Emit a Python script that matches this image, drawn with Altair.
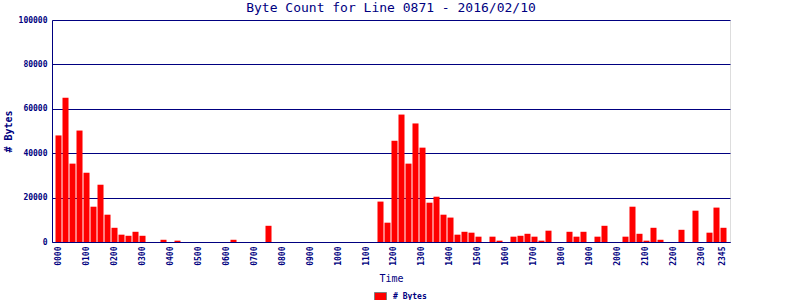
import altair as alt
import pandas as pd

times = [f"{h:02d}{m:02d}" for h in range(24) for m in (0, 15, 30, 45)]
byte_counts = [
    48000, 65000, 35300, 50200, 31200, 15900, 25800, 12300,
    6400, 3300, 2800, 4600, 2800, 0, 0, 1000,
    0, 600, 0, 0, 0, 0, 0, 0,
    0, 1000, 0, 0, 0, 0, 7300, 0,
    0, 0, 0, 0, 0, 0, 0, 0,
    0, 0, 0, 0, 0, 0, 18200, 8700,
    45600, 57400, 35300, 53400, 42500, 17700, 20400, 12300,
    11000, 3300, 4600, 4200, 2400, 0, 2400, 600,
    0, 2400, 2800, 3700, 2400, 600, 5100, 0,
    0, 4600, 2400, 4600, 0, 2400, 7300, 0,
    0, 2400, 15900, 3700, 600, 6400, 1000, 0,
    0, 5500, 0, 14100, 0, 4200, 15500, 6400,
]
tick_labels = [f"{h:02d}00" for h in range(24)] + ["2345"]
y_ticks = [0, 20000, 40000, 60000, 80000, 100000]
series_name = "# Bytes"

df = pd.DataFrame({"Time": times, "Bytes": byte_counts, "series": series_name})

NAVY = "#000080"
MONO = "DejaVu Sans Mono"

chart = alt.Chart(df).mark_bar(color="#ff0000").encode(
    x=alt.X(
        "Time:O",
        sort=times,
        scale=alt.Scale(paddingInner=0.14, paddingOuter=0.5),
        axis=alt.Axis(
            values=tick_labels,
            labelAngle=270,
            labelAlign="right",
            labelBaseline="middle",
            labelPadding=4,
            labelFont=MONO,
            labelFontWeight="bold",
            labelFontSize=8,
            labelColor=NAVY,
            ticks=False,
            domainColor=NAVY,
            title="Time",
            titleFont=MONO,
            titleFontWeight="normal",
            titleFontSize=10,
            titleColor=NAVY,
            titleY=36,
            titleBaseline="middle",
            grid=False,
        ),
    ),
    y=alt.Y(
        "Bytes:Q",
        scale=alt.Scale(domain=[0, 100000], nice=False),
        axis=alt.Axis(
            values=y_ticks,
            format="d",
            labelFont=MONO,
            labelFontWeight="bold",
            labelFontSize=8,
            labelColor=NAVY,
            labelPadding=5,
            ticks=False,
            domainColor=NAVY,
            grid=True,
            gridColor=NAVY,
            gridOpacity=1,
            gridWidth=1,
            title="# Bytes",
            titleFont=MONO,
            titleFontWeight="bold",
            titleFontSize=10,
            titleColor=NAVY,
            titleAngle=270,
            titleX=-44,
            titleY=111,
            titleAlign="center",
            titleBaseline="middle",
        ),
    ),
    color=alt.Color(
        "series:N",
        scale=alt.Scale(range=["#ff0000"]),
        legend=alt.Legend(
            title=None,
            orient="none",
            legendX=320,
            legendY=268,
            symbolType="M-0.75,-0.5H0.75V0.5H-0.75Z",
            symbolSize=256,
            symbolStrokeColor="#808080",
            symbolStrokeWidth=1,
            symbolOpacity=1,
            labelFont=MONO,
            labelFontWeight="bold",
            labelFontSize=8,
            labelColor=NAVY,
            labelOffset=4,
        ),
    ),
).properties(
    width=678,
    height=222,
    title=alt.TitleParams(
        text="Byte Count for Line 0871 - 2016/02/10",
        font=MONO,
        fontSize=13,
        fontWeight="normal",
        color=NAVY,
        anchor="middle",
        offset=1,
    ),
    autosize=alt.AutoSizeParams(type="none"),
    padding={"left": 52, "top": 20, "right": 70, "bottom": 58},
).configure_view(
    stroke=NAVY, strokeWidth=1
).configure(background="white")

chart.save("out.html", embed_options={"renderer": "svg", "actions": False})
